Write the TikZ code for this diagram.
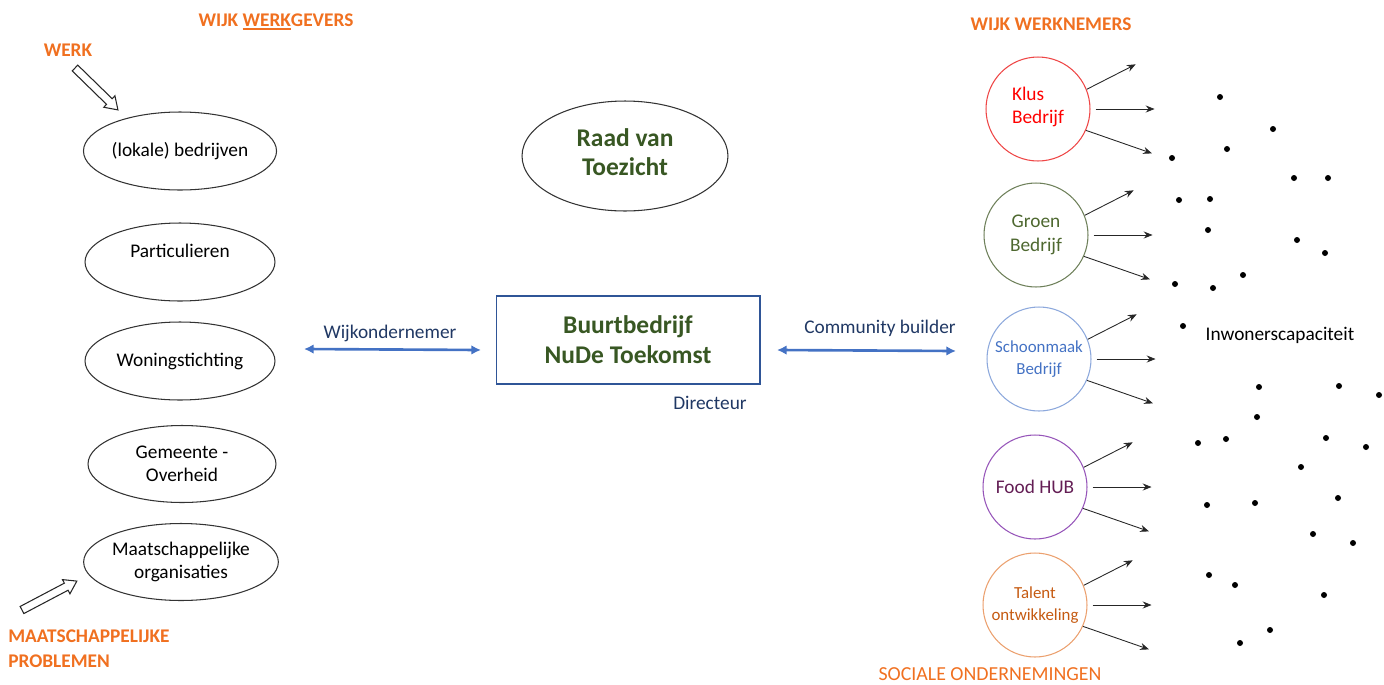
\documentclass[tikz,border=0pt]{standalone}
\usepackage{fontspec}
\setmainfont{Carlito}
\usetikzlibrary{shapes.geometric,arrows.meta}
\definecolor{orng}{RGB}{240,112,32}
\definecolor{dgreen}{RGB}{56,87,35}
\definecolor{navy}{RGB}{32,56,100}
\definecolor{arrblue}{RGB}{68,114,196}
\definecolor{boxblue}{RGB}{47,85,151}
\definecolor{klustext}{RGB}{255,0,0}
\definecolor{klusline}{RGB}{238,70,70}
\definecolor{groentext}{RGB}{78,104,48}
\definecolor{groenline}{RGB}{110,128,90}
\definecolor{schoontext}{RGB}{68,114,196}
\definecolor{schoonline}{RGB}{140,168,220}
\definecolor{foodtext}{RGB}{100,30,85}
\definecolor{foodline}{RGB}{150,85,185}
\definecolor{talenttext}{RGB}{197,90,17}
\definecolor{talentline}{RGB}{235,160,110}
\newcommand\thickul[1]{\vtop{\hbox{#1}\kern1.2pt\hrule height 1.1pt}}
\begin{document}
\begin{tikzpicture}[x=0.02cm,y=-0.02cm,
  txt/.style={font=\fontsize{11}{13.4}\selectfont, align=center, inner sep=0pt},
  orangebold/.style={font=\fontsize{11}{14}\selectfont\bfseries, text=orng, inner sep=0pt},
  ell/.style={ellipse, draw=black!80, line width=0.6pt, minimum width=3.8cm, minimum height=1.56cm, inner sep=0pt, txt},
  circ/.style={circle, draw, line width=0.6pt, minimum size=2.08cm, inner sep=0pt, align=center},
  bigtxt/.style={font=\fontsize{14.5}{17}\selectfont\bfseries, text=dgreen, align=center},
  thinarr/.style={-{Stealth[length=5pt,width=4pt]}, line width=0.5pt, black!85},
  bluearr/.style={{Latex[length=5.5pt,width=5.5pt]}-{Latex[length=5.5pt,width=5.5pt]}, line width=1.5pt, arrblue},
  hollow/.style={draw=black!85, line width=0.6pt, fill=white},
  dot/.style={fill=black}
]
\path[use as bounding box] (0,0) rectangle (1384,684);

% left labels
\node[orangebold] (wg) at (276,22) {WIJK \thickul{WERK}GEVERS};
\node[orangebold] (werk) at (68,50) {WERK};
\node[orangebold, anchor=west, align=left] (mp) at (8,649) {MAATSCHAPPELIJKE\\PROBLEMEN};

% hollow arrows
\begin{scope}[shift={(75,68)}, rotate=-44.3]
  \draw[hollow] (0,-4) -- (48,-4) -- (48,-8) -- (60,0) -- (48,8) -- (48,4) -- (0,4) -- cycle;
\end{scope}
\begin{scope}[shift={(22,610)}, rotate=27.8]
  \draw[hollow] (0,-4) -- (50,-4) -- (50,-8) -- (62,0) -- (50,8) -- (50,4) -- (0,4) -- cycle;
\end{scope}

% left ellipses
\node[ell] (e1) at (180,151) {(lokale) bedrijven};
\node[ell, text depth=13pt] (e2) at (180,262) {Particulieren};
\node[ell] (e3) at (180,361) {Woningstichting};
\node[ell, minimum width=3.76cm, minimum height=1.54cm] (e4) at (182,464) {Gemeente -\\Overheid};
\node[ell, minimum width=3.76cm, minimum height=1.54cm] (e5) at (181,562) {Maatschappelijke\\organisaties};

% centre
\node[ellipse, draw=black!80, line width=0.6pt, minimum width=4.12cm, minimum height=2.2cm, inner sep=0pt, bigtxt, text depth=4.5pt] (raad) at (625,156) {Raad van\\Toezicht};
\node[rectangle, draw=boxblue, line width=0.6pt, minimum width=5.28cm, minimum height=1.76cm, inner sep=0pt, bigtxt] (box) at (628,340) {Buurtbedrijf\\NuDe Toekomst};
\node[txt, text=navy] (dir) at (710,403) {Directeur};

\coordinate (wl) at (304,349);
\coordinate (wr) at (481,350);
\coordinate (cl) at (777,350);
\coordinate (cr) at (956,351);
\draw[bluearr] (wl) -- (wr);
\draw[bluearr] (cl) -- (cr);
\node[txt, text=navy] (wijk) at (390,333) {Wijkondernemer};
\node[txt, text=navy] (comm) at (880,328) {Community builder};

% right side
\node[orangebold] (wn) at (1051,24) {WIJK WERKNEMERS};
\node[circ, draw=klusline, text=klustext, font=\fontsize{11}{13.4}\selectfont, align=left, text depth=4pt, xshift=0.06cm] (klus) at (1035,109) {Klus\\Bedrijf};
\node[circ, draw=groenline, text=groentext, font=\fontsize{11}{13.4}\selectfont] (groen) at (1036,235) {Groen\\Bedrijf};
\node[circ, draw=schoonline, text=schoontext, font=\fontsize{9.6}{12.5}\selectfont] (schoon) at (1039,359) {Schoonmaak\\Bedrijf};
\node[circ, draw=foodline, text=foodtext, font=\fontsize{11}{13.4}\selectfont] (food) at (1035,487) {Food HUB};
\node[circ, draw=talentline, text=talenttext, font=\fontsize{9.6}{12.5}\selectfont] (talent) at (1035,605) {Talent\\ontwikkeling};
\node[font=\fontsize{11.3}{14}\selectfont, text=orng, inner sep=0pt] (soc) at (990,674) {SOCIALE ONDERNEMINGEN};

\foreach \c in {klus,groen,schoon,food,talent}{
  \draw[thinarr] (\c.22) -- ++(49,-25);
  \draw[thinarr] ([xshift=0.1cm]\c.east) -- ++(59,0);
  \draw[thinarr] (\c.-24) -- ++(66,23);
}

\node[txt] (inw) at (1280,335) {Inwonerscapaciteit};

\foreach \p in {(1220,97),(1273,129),(1227,149),(1172,158),(1294,178),(1328,178),
  (1179,200),(1210,199),(1208,230),(1297,240),(1325,253),(1243,275),(1175,284),(1213,288),
  (1183,326),(1259,387),(1339,386),(1379,395),(1257,417),(1198,443),(1226,439),(1326,438),
  (1366,447),(1301,467),(1207,505),(1255,503),(1338,498),(1313,534),(1353,543),
  (1209,575),(1235,585),(1324,595),(1270,630),(1240,643)}{
  \fill[dot] \p circle (0.06cm);
}
\end{tikzpicture}
\end{document}
